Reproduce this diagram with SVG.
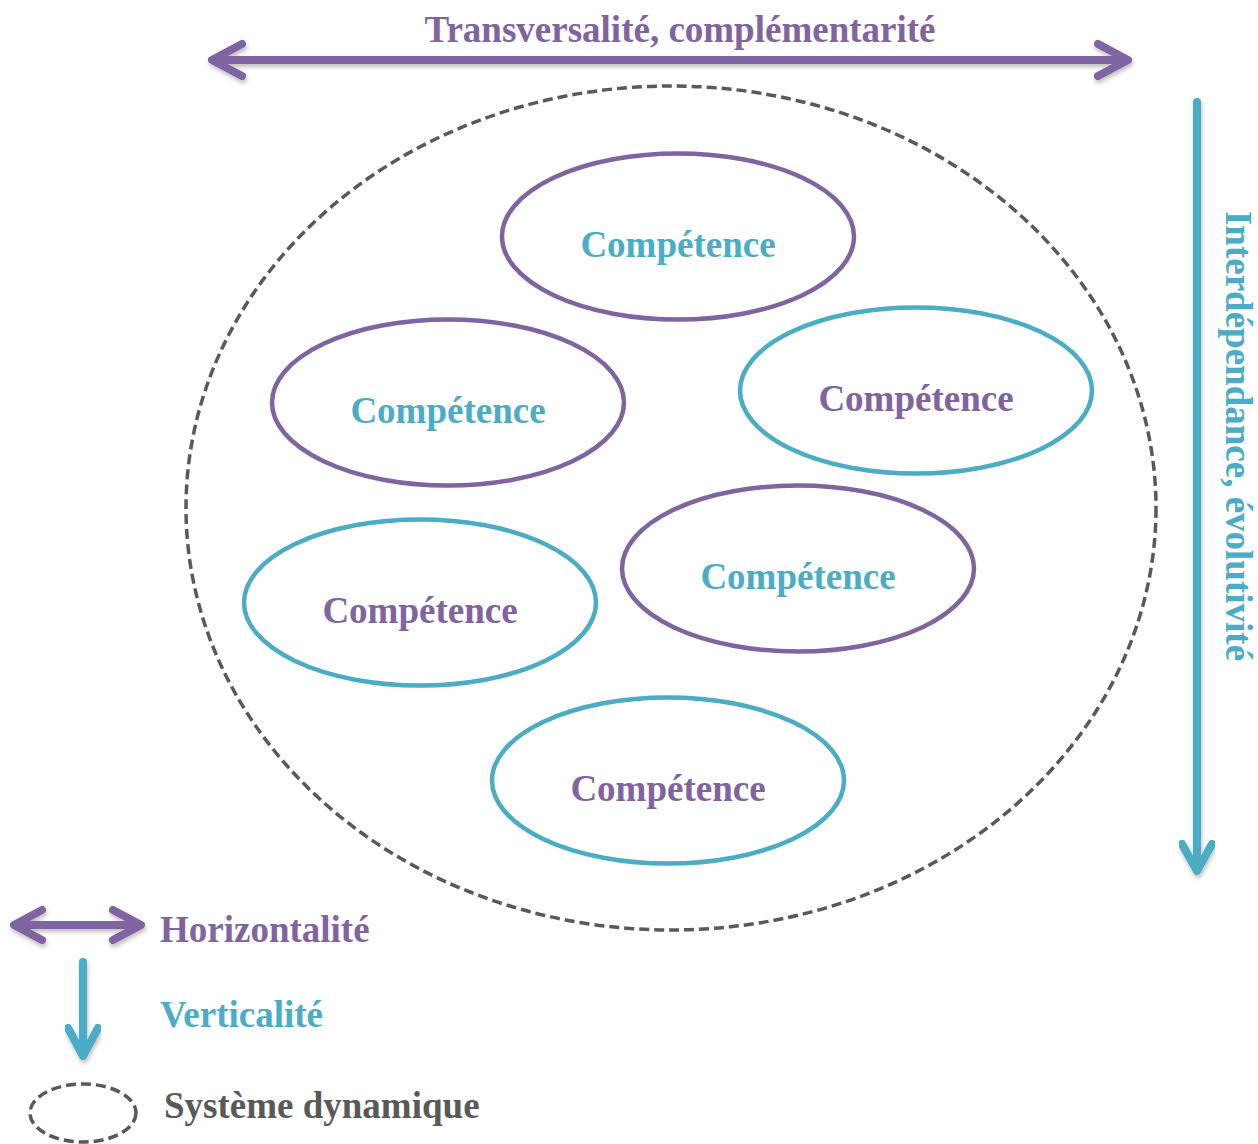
<svg xmlns="http://www.w3.org/2000/svg" width="1258" height="1144" viewBox="0 0 1258 1144">
<defs>
<filter id="sh" x="-10%" y="-50%" width="120%" height="200%">
<feDropShadow dx="1" dy="3" stdDeviation="2" flood-color="#000" flood-opacity="0.25"/>
</filter>
<style>
text{font-family:"Liberation Serif","Times New Roman",serif;font-weight:bold;font-size:37px}
.p{fill:#8064A2}
.t{fill:#4BACC6}
.g{fill:#595959}
.ep{fill:#fff;stroke:#8064A2;stroke-width:4.5}
.et{fill:#fff;stroke:#4BACC6;stroke-width:4.5}
.dash{fill:none;stroke:#595959;stroke-width:3.5;stroke-dasharray:10 5}
.ap{fill:none;stroke:#8064A2;stroke-width:8;stroke-linecap:round;stroke-linejoin:round}
.at{fill:none;stroke:#4BACC6;stroke-width:8;stroke-linecap:round;stroke-linejoin:round}
.c{text-anchor:middle}
</style>
</defs>
<rect width="1258" height="1144" fill="#fff"/>
<g id="system">
<ellipse class="dash" cx="671" cy="508" rx="485" ry="422"/>
</g>
<g id="connectors">
<g filter="url(#sh)">
<line class="ap" x1="214" y1="60" x2="1126" y2="60"/>
<polyline class="ap" points="242,44 212,60 242,76"/>
<polyline class="ap" points="1098,44 1128,60 1098,76"/>
</g>
<g filter="url(#sh)">
<line class="at" x1="1197" y1="102" x2="1197" y2="870"/>
<polyline class="at" points="1182,844 1197,871 1212,844"/>
</g>
</g>
<text class="p c" x="680" y="42">Transversalité, complémentarité</text>
<text class="t c" transform="translate(1226,436) rotate(90)">Interdépendance, évolutivité</text>
<g id="c1"><ellipse class="ep" cx="678" cy="236.5" rx="176" ry="83"/><text class="t c" x="678" y="257">Compétence</text></g>
<g id="c2"><ellipse class="ep" cx="448" cy="402.5" rx="176" ry="83"/><text class="t c" x="448" y="423">Compétence</text></g>
<g id="c3"><ellipse class="et" cx="916" cy="390.5" rx="176" ry="83"/><text class="p c" x="916" y="411">Compétence</text></g>
<g id="c4"><ellipse class="et" cx="420" cy="602.5" rx="176" ry="83"/><text class="p c" x="420" y="623">Compétence</text></g>
<g id="c5"><ellipse class="ep" cx="798" cy="568.5" rx="176" ry="83"/><text class="t c" x="798" y="589">Compétence</text></g>
<g id="c6"><ellipse class="et" cx="668" cy="780.5" rx="176" ry="83"/><text class="p c" x="668" y="801">Compétence</text></g>
<g id="legend">
<g filter="url(#sh)">
<line class="ap" x1="16" y1="925" x2="139" y2="925"/>
<polyline class="ap" points="42,910 14,925 42,940"/>
<polyline class="ap" points="113,910 141,925 113,940"/>
</g>
<text class="p" x="160" y="942">Horizontalité</text>
<g filter="url(#sh)">
<line class="at" x1="83" y1="962" x2="83" y2="1055"/>
<polyline class="at" points="68,1028 83,1056 98,1028"/>
</g>
<text class="t" x="160" y="1027">Verticalité</text>
<ellipse class="dash" cx="83" cy="1113" rx="53" ry="29"/>
<text class="g" x="164" y="1118">Système dynamique</text>
</g>
</svg>
